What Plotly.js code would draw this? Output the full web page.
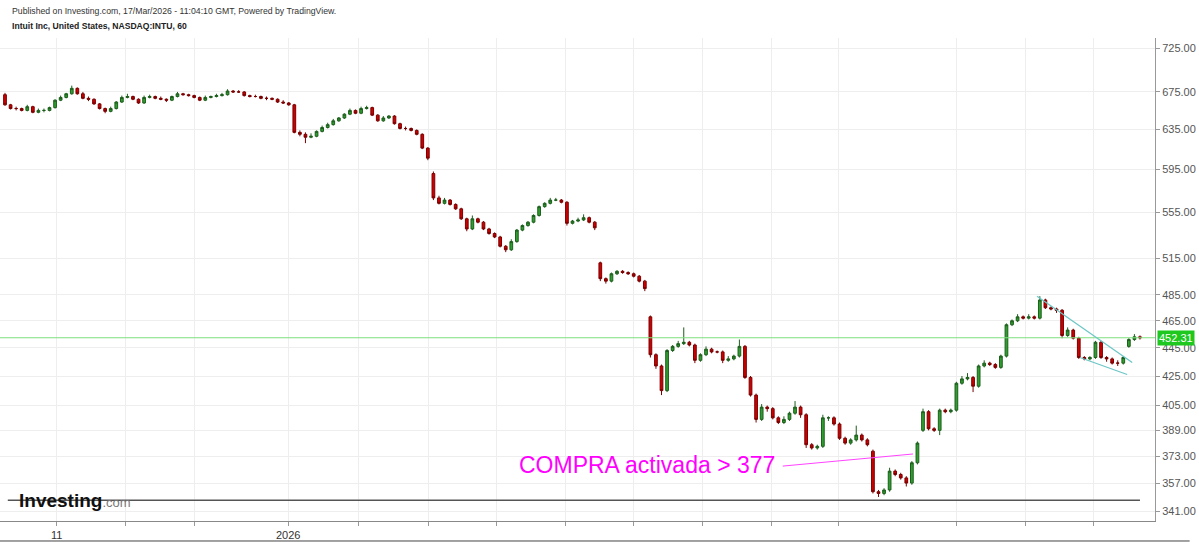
<!DOCTYPE html>
<html><head><meta charset="utf-8">
<script src="https://cdn.plot.ly/plotly-3.0.1.min.js"></script>
<style>html,body{margin:0;padding:0;background:#fff;}#chart{width:1199px;height:542px;}</style>
</head><body><div id="chart"></div>
<script>
const opens = [
672,661,657,657,655,659,653,655,655,658,
666,669,673,679,673,668,667,662,657,654,
657,664,669,670,667,663,669,670,668,667,
666,670,673,672,671,669,666,669,670,671,
672,676,675,675,671,670,670,668,668,667,
664,663,661,632,630,627,628,633,637,640,
644,647,651,655,652,657,658,650,644,647,
649,641,636,636,634,630,616,591,568,563,
566,562,558,549,540,549,546,540,536,533,
525,522,529,539,543,546,552,560,563,566,
566,564,545,547,548,550,546,511,498,496,
502,504,503,502,500,496,468,440,432,415,
443,446,448,449,447,436,440,444,442,442,
436,437,439,446,424,412,396,404,403,397,
394,396,400,404,399,380,378,379,397,397,
393,384,381,383,386,383,376,352,351,353,
364,362,360,357,369,389,401,390,389,402,
401,402,420,423,424,418,432,434,433,431,
439,462,465,468,467,468,467,481,475,474,
473,454,458,452,438,437,438,449,438,437,
434,434,446,451,453];
const highs = [
674,662,659,658,661,660,657,657,659,667,
671,674,682,680,675,670,668,663,658,659,
665,671,673,671,668,671,672,671,670,668,
671,675,674,673,672,670,671,671,673,674,
678,677,677,676,672,672,671,670,669,668,
666,664,662,634,632,631,634,639,642,646,
648,652,657,656,659,660,659,651,649,650,
650,642,638,637,635,631,617,593,570,568,
567,563,559,550,552,550,547,541,537,534,
526,531,540,544,547,553,561,564,568,568,
567,565,548,550,553,551,547,512,499,503,
505,505,504,503,501,497,469,441,433,444,
447,450,460,450,448,441,446,445,443,443,
439,440,451,447,425,413,406,405,404,398,
398,401,408,405,400,381,380,399,398,398,
394,385,384,392,387,384,377,353,354,366,
365,363,361,370,382,403,402,391,403,403,
403,421,425,427,425,433,436,435,434,440,
463,466,470,469,470,469,484,482,476,475,
474,460,459,453,439,439,450,450,439,438,
436,439,452,455,454];
const lows = [
660,656,655,654,654,652,652,653,654,657,
665,668,672,672,667,665,661,656,652,653,
656,663,668,666,662,662,668,667,666,664,
665,669,671,670,668,665,665,668,669,670,
671,674,674,670,669,669,667,666,666,663,
662,660,631,628,621,626,627,632,636,639,
643,646,650,651,651,656,649,643,643,646,
640,635,634,633,629,615,604,566,562,562,
561,557,548,538,539,545,539,535,532,524,
520,521,528,538,542,545,551,559,562,565,
563,543,544,546,547,545,539,496,494,495,
501,502,501,499,495,488,438,430,412,414,
442,445,447,446,434,435,439,441,441,434,
435,436,438,423,411,394,395,401,396,393,
393,395,399,397,378,377,377,378,395,392,
383,380,380,382,382,379,351,349,350,352,
361,359,355,356,368,388,389,388,386,400,
400,401,419,422,414,417,431,432,430,430,
438,461,464,466,466,466,466,474,473,471,
452,453,451,437,436,436,437,437,435,433,
432,433,445,450,451];
const closes = [
661,657,657,655,659,653,655,655,658,666,
669,673,679,673,668,667,662,657,654,657,
664,669,670,667,663,669,670,668,667,666,
670,673,672,671,669,666,669,670,671,672,
676,675,675,671,670,670,668,668,667,664,
663,661,632,630,627,628,633,637,640,644,
647,651,655,652,657,658,650,644,647,649,
641,636,636,634,630,616,606,568,563,566,
562,558,549,540,549,546,540,536,533,525,
522,529,539,543,546,552,560,563,566,566,
564,545,547,548,550,546,541,498,496,502,
504,503,502,500,496,490,440,432,415,443,
446,448,449,447,436,440,444,442,442,436,
437,439,446,424,412,396,404,403,397,394,
396,400,404,399,380,378,379,397,397,393,
384,381,383,386,383,380,352,351,353,364,
362,360,357,369,381,401,390,389,402,401,
402,420,423,424,418,432,434,433,431,439,
462,465,468,467,468,467,481,475,474,473,
454,458,452,438,437,438,449,438,437,434,
434,438,451,453,452.31];

const yTicks = [341,357,373,389,405,425,445,465,485,515,555,595,635,675,725];
const yTickText = yTicks.map(v => v.toFixed(2));
const xTickIdx = [9.3,21.7,34,50.9,63.6,76.2,88.4,100.8,112.9,125.3,137.7,149.9,171.1,183.5,195.7];
const xTickText = ['11','','','2026','','','','','','','','','','',''];
const lastPrice = 452.31;
const supportLevel = 347.2;
const supportX = [0.5, 204];
const upperTrendX = [185.5, 202.6], upperTrendY = [484, 434.5];
const lowerTrendX = [193.2, 201.7], lowerTrendY = [438, 426];
const signalX = [139.8, 163.2], signalY = [367, 374.3];
const signalLabel = 'COMPRA activada > 377';
const signalLabelPos = [92, 367.5];
const xRange = [-0.9, 206.7];
const yRange = [335.6, 737];

const idx = closes.map((_, i) => i);
const FONT = 'Liberation Sans, Arial, sans-serif';

const traces = [
  {type:'scatter', mode:'lines', x:xRange, y:[lastPrice,lastPrice], line:{color:'#7ee07e', width:1}, hoverinfo:'skip'},
  {type:'scatter', mode:'lines', x:supportX, y:[supportLevel,supportLevel], line:{color:'#555', width:1.5}, hoverinfo:'skip'},
  {type:'candlestick', x:idx, open:opens, high:highs, low:lows, close:closes,
   increasing:{fillcolor:'#2e9e2e', line:{color:'#1d5e1d', width:1}},
   decreasing:{fillcolor:'#cc0000', line:{color:'#7a0000', width:1}},
   whiskerwidth:0},
  {type:'scatter', mode:'lines', x:upperTrendX, y:upperTrendY, line:{color:'#6cc6c6', width:1.2}},
  {type:'scatter', mode:'lines', x:lowerTrendX, y:lowerTrendY, line:{color:'#6cc6c6', width:1.2}},
  {type:'scatter', mode:'lines', x:signalX, y:signalY, line:{color:'#ff44ff', width:1}}
];

const layout = {
  width:1199, height:542,
  margin:{l:0, r:44, t:38, b:21, pad:0},
  paper_bgcolor:'#fff', plot_bgcolor:'#fff',
  showlegend:false, hovermode:false, boxgap:0.3,
  font:{family:FONT, color:'#333'},
  xaxis:{type:'linear', range:xRange, rangeslider:{visible:false},
    tickmode:'array', tickvals:xTickIdx, ticktext:xTickText,
    ticks:'outside', ticklen:4, tickcolor:'#999',
    showgrid:true, gridcolor:'#eeeeee', gridwidth:1,
    showline:true, linecolor:'#888', linewidth:1,
    zeroline:false, tickfont:{size:11, color:'#333', family:FONT}},
  yaxis:{type:'log', side:'right', range:[Math.log10(yRange[0]), Math.log10(yRange[1])],
    tickmode:'array', tickvals:yTicks, ticktext:yTickText,
    ticks:'outside', ticklen:4, tickcolor:'#999',
    showgrid:true, gridcolor:'#eeeeee', gridwidth:1,
    showline:true, linecolor:'#999', linewidth:1, zeroline:false,
    tickfont:{size:11, color:'#555', family:FONT}},
  shapes:[
    {type:'line', xref:'paper', yref:'paper', x0:0, x1:1.03, y0:-0.0414, y1:-0.0414, line:{color:'#444', width:1}}
  ],
  annotations:[
    {xref:'paper', yref:'paper', x:0.0087, y:1.0559, xanchor:'left', yanchor:'middle', showarrow:false,
     text:'Published on Investing.com, 17/Mar/2026 - 11:04:10 GMT, Powered by TradingView.', font:{size:8.7, color:'#333', family:FONT}},
    {xref:'paper', yref:'paper', x:0.0087, y:1.0248, xanchor:'left', yanchor:'middle', showarrow:false,
     text:'<b>Intuit Inc, United States, NASDAQ:INTU, 60</b>', font:{size:8.6, color:'#222', family:FONT}},
    {xref:'x', yref:'y', x:signalLabelPos[0], y:Math.log10(signalLabelPos[1]), xanchor:'left', yanchor:'middle', showarrow:false,
     text:signalLabel, font:{size:23, color:'#ff00ff', family:FONT}},
    {xref:'paper', yref:'y', x:1, y:Math.log10(lastPrice), xanchor:'left', yanchor:'middle', xshift:2, showarrow:false,
     text:lastPrice.toFixed(2), bgcolor:'#1ec81e', borderpad:1, font:{size:11, color:'#fff', family:FONT}},
    {xref:'paper', yref:'y', x:0.0147, y:Math.log10(supportLevel), xanchor:'left', yanchor:'middle', showarrow:false,
     text:'<b>Investing</b><span style="font-size:13px;color:#777">.com</span>', font:{size:19, color:'#111', family:FONT}}
  ]
};

Plotly.newPlot('chart', traces, layout, {displayModeBar:false, staticPlot:true});
</script>
</body></html>
